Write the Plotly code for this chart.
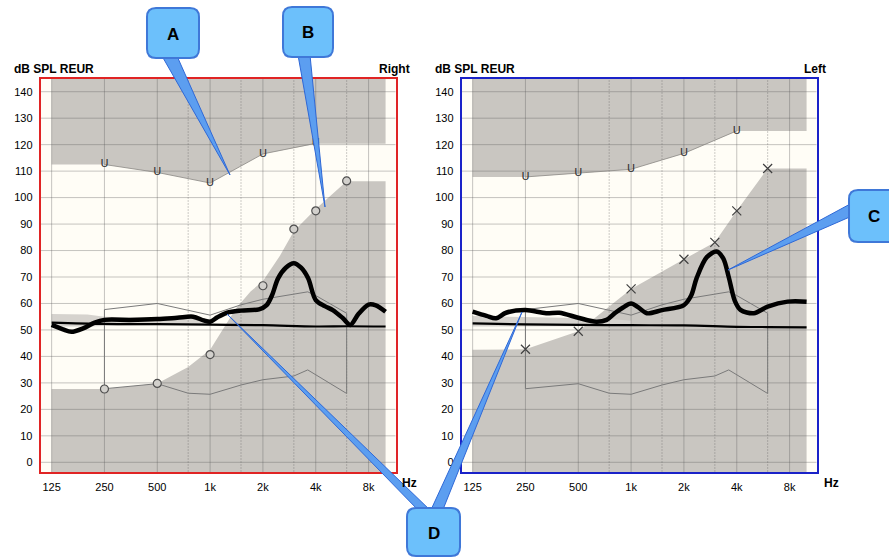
import math
import plotly.graph_objects as go

W, H = 889, 558

# ---------------- data ----------------
FREQ_TICKS = [125, 250, 500, 1000, 2000, 4000, 8000]
FREQ_TICK_LABELS = ["125", "250", "500", "1k", "2k", "4k", "8k"]
FREQ_HALF = [750, 1500, 3000, 6000]
DB_TICKS = [0, 10, 20, 30, 40, 50, 60, 70, 80, 90, 100, 110, 120, 130, 140]
X_MIN, X_MAX = 108.3, 11420
Y_MIN, Y_MAX = -3.66, 144.8

# Right ear (left panel)
R_UCL_F = [250, 500, 1000, 2000, 4000]
R_UCL_DB = [112.5, 109.5, 105.5, 116.5, 120.5]
R_THR_F = [250, 500, 1000, 2000, 3000, 4000, 6000]
R_THR_DB = [27.7, 29.8, 40.7, 66.7, 88.1, 95, 106.3]
R_UPPER_EDGE_F = [125, 250, 500, 1000, 2000, 4000, 10000]
R_UPPER_EDGE_DB = [112.5, 112.5, 109.5, 105.5, 116.5, 120.3, 120.3]
R_LOWER_EDGE_F = [125, 250, 500, 750, 1000, 1200, 1400, 1700, 2000, 2500, 3000, 4000, 6000, 10000]
R_LOWER_EDGE_DB = [27.7, 27.7, 29.8, 36, 42.5, 51, 58, 64.5, 68.5, 78, 87.3, 95.7, 106.2, 106.2]
R_BAND_F = [125, 200, 250, 500, 800, 1000]
R_BAND_HI = [56, 55.8, 55, 54.5, 54.5, 54]
R_BAND_LO = [51.3, 51.3, 51.5, 51.8, 52, 52]
R_LTASS_F = [125, 145, 162, 189, 220, 250, 350, 500, 650, 800, 920, 1000, 1100, 1250, 1500, 1900,
             2100, 2250, 2440, 2700, 3000, 3300, 3620, 4000, 4500, 5000, 5700, 6300, 7000, 8000, 8800, 10000]
R_LTASS_DB = [51.9, 50.2, 49.3, 50.6, 52.8, 53.8, 53.8, 54.1, 54.6, 55, 53.6, 53.1, 54.8, 56.5, 57.3, 57.8,
              59.4, 63, 69.5, 73.5, 75.2, 73.5, 69.5, 61.3, 59, 57.5, 54.5, 51.9, 56, 59.6, 59.3, 56.9]
R_TARGET_F = [125, 250, 500, 1000, 2000, 4000, 6000, 10000]
R_TARGET_DB = [52.8, 52.3, 52.2, 52, 51.8, 51.3, 51.4, 51.3]

# Left ear (right panel)
L_UCL_F = [250, 500, 1000, 2000, 4000]
L_UCL_DB = [107.8, 109.2, 110.7, 116.7, 125.2]
L_THR_F = [250, 500, 1000, 2000, 3000, 4000, 6000]
L_THR_DB = [42.7, 49.5, 65.5, 76.7, 83.1, 95, 111]
L_UPPER_EDGE_F = [125, 250, 500, 1000, 2000, 4000, 10000]
L_UPPER_EDGE_DB = [107.8, 107.8, 109.2, 110.7, 116.7, 125.2, 125.2]
L_LOWER_EDGE_F = [125, 250, 500, 1000, 2000, 3000, 4000, 6000, 10000]
L_LOWER_EDGE_DB = [42.5, 42.7, 49.5, 65.5, 76.7, 83.1, 95, 111, 111]
L_BAND_F = [125, 250, 500, 800, 1000]
L_BAND_HI = [55.3, 55, 54.5, 54, 53.5]
L_BAND_LO = [51.3, 51.3, 51.3, 51.5, 51.5]
L_LTASS_F = [125, 150, 170, 194, 250, 328, 390, 500, 633, 725, 810, 900, 1000, 1100, 1230, 1500, 2000,
             2200, 2360, 2700, 3070, 3350, 3600, 3900, 4200, 5000, 6000, 7800, 10000]
L_LTASS_DB = [56.9, 55.3, 54.4, 56.5, 57.5, 56.3, 56.5, 54.6, 53.1, 53.8, 56.4, 58.5, 60, 58.5, 56.3, 57.5, 59.4,
              63, 69.5, 77.5, 79.6, 77, 70, 61, 57.6, 56.3, 58.8, 60.7, 60.7]
L_TARGET_F = [125, 250, 500, 1000, 2000, 4000, 6000, 10000]
L_TARGET_DB = [52.5, 52.1, 51.9, 51.8, 51.7, 51.2, 51.1, 51]

# Speech range (shared)
BAN_F = [250, 500, 1000, 1500, 2000, 3600, 4000, 6000, 6000, 3600, 3000, 2000, 1500, 1000, 750, 500, 250, 250]
BAN_DB = [57.7, 60, 55.6, 59.5, 61.6, 64.4, 63, 56.3, 26, 34.9, 32.6, 31.2, 29.2, 25.7, 26.1, 29.7, 27.8, 57.7]

# ---------------- styles ----------------
GRAY = "#C9C6C1"
BAND = "#D6D3CE"
CREAM = "#FFFDF6"
GRID = "rgba(90,90,90,0.35)"
FONT = "Liberation Sans"

fig = go.Figure()


def panel(xa, ya, upper_f, upper_db, lower_f, lower_db, band_f, band_hi, band_lo,
          ucl_f, ucl_db, thr_f, thr_db, thr_symbol, ltass_f, ltass_db, tgt_f, tgt_db):
    kw = dict(xaxis=xa, yaxis=ya, hoverinfo="skip", showlegend=False)
    fig.add_trace(go.Scatter(x=lower_f + [lower_f[-1], lower_f[0]],
                             y=lower_db + [Y_MIN, Y_MIN], mode="lines", fill="toself",
                             fillcolor=GRAY, line=dict(width=0), **kw))
    fig.add_trace(go.Scatter(x=upper_f + [upper_f[-1], upper_f[0]],
                             y=upper_db + [Y_MAX, Y_MAX], mode="lines", fill="toself",
                             fillcolor=GRAY, line=dict(width=0), **kw))
    fig.add_trace(go.Scatter(x=band_f + band_f[::-1], y=band_hi + band_lo[::-1], mode="lines",
                             fill="toself", fillcolor=BAND, line=dict(width=0), **kw))
    gx, gy = [], []
    for f in FREQ_TICKS:
        gx += [f, f, None]
        gy += [Y_MIN, Y_MAX, None]
    for d in DB_TICKS:
        gx += [X_MIN, X_MAX, None]
        gy += [d, d, None]
    fig.add_trace(go.Scatter(x=gx, y=gy, mode="lines", line=dict(color=GRID, width=1), **kw))
    hx, hy = [], []
    for f in FREQ_HALF:
        hx += [f, f, None]
        hy += [Y_MIN, Y_MAX, None]
    fig.add_trace(go.Scatter(x=hx, y=hy, mode="lines",
                             line=dict(color="rgba(90,90,90,0.30)", width=1, dash="2px,1px"), **kw))
    fig.add_trace(go.Scatter(x=ucl_f, y=ucl_db, mode="lines",
                             line=dict(color="#8A8884", width=0.8), **kw))
    fig.add_trace(go.Scatter(x=BAN_F, y=BAN_DB, mode="lines",
                             line=dict(color="#7A7A7A", width=1), **kw))
    fig.add_trace(go.Scatter(x=tgt_f, y=tgt_db, mode="lines", line_shape="spline",
                             line=dict(color="black", width=2.2), **kw))
    fig.add_trace(go.Scatter(x=ltass_f, y=ltass_db, mode="lines", line_shape="spline",
                             line=dict(color="black", width=4.5, smoothing=0.9), **kw))
    fig.add_trace(go.Scatter(x=ucl_f, y=ucl_db, mode="text", text=["U"] * len(ucl_f),
                             textposition="middle center",
                             textfont=dict(family="DejaVu Sans", size=11, color="#303030"), **kw))
    if thr_symbol == "circle":
        mk = dict(symbol="circle", size=8, color="#D2D0CC", line=dict(color="#505050", width=1.2))
    else:
        mk = dict(symbol="x-thin", size=9, color="#404040", line=dict(color="#404040", width=1.2))
    fig.add_trace(go.Scatter(x=thr_f, y=thr_db, mode="markers", marker=mk, **kw))


panel("x", "y", R_UPPER_EDGE_F, R_UPPER_EDGE_DB, R_LOWER_EDGE_F, R_LOWER_EDGE_DB,
      R_BAND_F, R_BAND_HI, R_BAND_LO, R_UCL_F, R_UCL_DB, R_THR_F, R_THR_DB, "circle",
      R_LTASS_F, R_LTASS_DB, R_TARGET_F, R_TARGET_DB)
panel("x2", "y2", L_UPPER_EDGE_F, L_UPPER_EDGE_DB, L_LOWER_EDGE_F, L_LOWER_EDGE_DB,
      L_BAND_F, L_BAND_HI, L_BAND_LO, L_UCL_F, L_UCL_DB, L_THR_F, L_THR_DB, "x",
      L_LTASS_F, L_LTASS_DB, L_TARGET_F, L_TARGET_DB)

ydom = [1 - 472 / H, 1 - 79 / H]


def xax(dom, color, anchor):
    return dict(domain=dom, type="log", range=[math.log10(X_MIN), math.log10(X_MAX)],
                tickvals=FREQ_TICKS, ticktext=FREQ_TICK_LABELS, showgrid=False, zeroline=False,
                showline=True, linecolor=color, linewidth=2, mirror=True, ticks="",
                tickfont=dict(family=FONT, size=11, color="black"), anchor=anchor,
                ticklabelstandoff=4, fixedrange=True)


def yax(color, anchor):
    return dict(domain=ydom, range=[Y_MIN, Y_MAX], tickvals=DB_TICKS, showgrid=False,
                zeroline=False, showline=True, linecolor=color, linewidth=2, mirror=True,
                ticks="", tickfont=dict(family=FONT, size=11, color="black"), anchor=anchor,
                ticklabelstandoff=4, fixedrange=True)


fig.update_layout(
    width=W, height=H, margin=dict(l=0, r=0, t=0, b=0),
    paper_bgcolor="white", plot_bgcolor=CREAM, showlegend=False,
    xaxis=xax([40.7 / W, 395.7 / W], "#E02424", "y"),
    yaxis=yax("#E02424", "x"),
    xaxis2=xax([461.7 / W, 816.7 / W], "#1A22C8", "y2"),
    yaxis2=yax("#1A22C8", "x2"),
)


def P(x, y):
    return x / W, 1 - y / H


def fmt(pt):
    return f"{pt[0]:.5f},{pt[1]:.5f}"


def rrect(x0, y0, x1, y1, r):
    pts = [("M", [(x0 + r, y0)]), ("L", [(x1 - r, y0)]), ("Q", [(x1, y0), (x1, y0 + r)]),
           ("L", [(x1, y1 - r)]), ("Q", [(x1, y1), (x1 - r, y1)]), ("L", [(x0 + r, y1)]),
           ("Q", [(x0, y1), (x0, y1 - r)]), ("L", [(x0, y0 + r)]), ("Q", [(x0, y0), (x0 + r, y0)])]
    s = ""
    for cmd, ps in pts:
        s += cmd + " ".join(fmt(P(*p)) for p in ps) + " "
    return s + "Z"


def tail(b1, b2, tip):
    return f"M{fmt(P(*b1))} L{fmt(P(*tip))} L{fmt(P(*b2))} Z"


shapes = []
TAIL_FILL = "#5C9EF0"
TAIL_LINE = "#2F68D6"
tails = [
    ((162, 56), (177, 56), (230, 175)),
    ((298, 55), (310, 55), (325, 207)),
    ((852, 203), (852, 216), (728, 270)),
    ((420, 512), (432, 512), (227, 314)),
    ((430, 512), (442, 512), (522, 312)),
]
for b1, b2, tip in tails:
    shapes.append(dict(type="path", path=tail(b1, b2, tip), xref="paper", yref="paper",
                       fillcolor=TAIL_FILL, line=dict(color=TAIL_LINE, width=1), layer="above"))

boxes = [
    ("A", 147, 8, 199, 58),
    ("B", 283, 7, 333, 57),
    ("C", 849, 190, 898, 242),
    ("D", 407, 508, 460, 556),
]
annotations = []
for lab, x0, y0, x1, y1 in boxes:
    shapes.append(dict(type="path", path=rrect(x0, y0, x1, y1, 9), xref="paper", yref="paper",
                       fillcolor="#6CC0FB", line=dict(color="#3F78D8", width=2), layer="above"))
    cx, cy = P((x0 + x1) / 2, (y0 + y1) / 2 + 1)
    annotations.append(dict(x=cx, y=cy, xref="paper", yref="paper", text=f"<b>{lab}</b>",
                            showarrow=False, font=dict(family=FONT, size=17, color="black"),
                            xanchor="center", yanchor="middle"))

labels = [
    ("dB SPL REUR", 12, 69, "left"),
    ("Right", 412, 69, "right"),
    ("Hz", 400, 483, "left"),
    ("dB SPL REUR", 433, 69, "left"),
    ("Left", 828, 69, "right"),
    ("Hz", 822, 483, "left"),
]
for txt, x, y, anc in labels:
    px_, py_ = P(x, y)
    annotations.append(dict(x=px_, y=py_, xref="paper", yref="paper", text=f"<b>{txt}</b>",
                            showarrow=False, font=dict(family=FONT, size=12, color="black"),
                            xanchor=anc, yanchor="middle"))

fig.update_layout(shapes=shapes, annotations=annotations)
fig.write_html("out.html", config={"displayModeBar": False},
               post_script="document.body.style.margin='0';document.body.style.overflow='hidden';")
